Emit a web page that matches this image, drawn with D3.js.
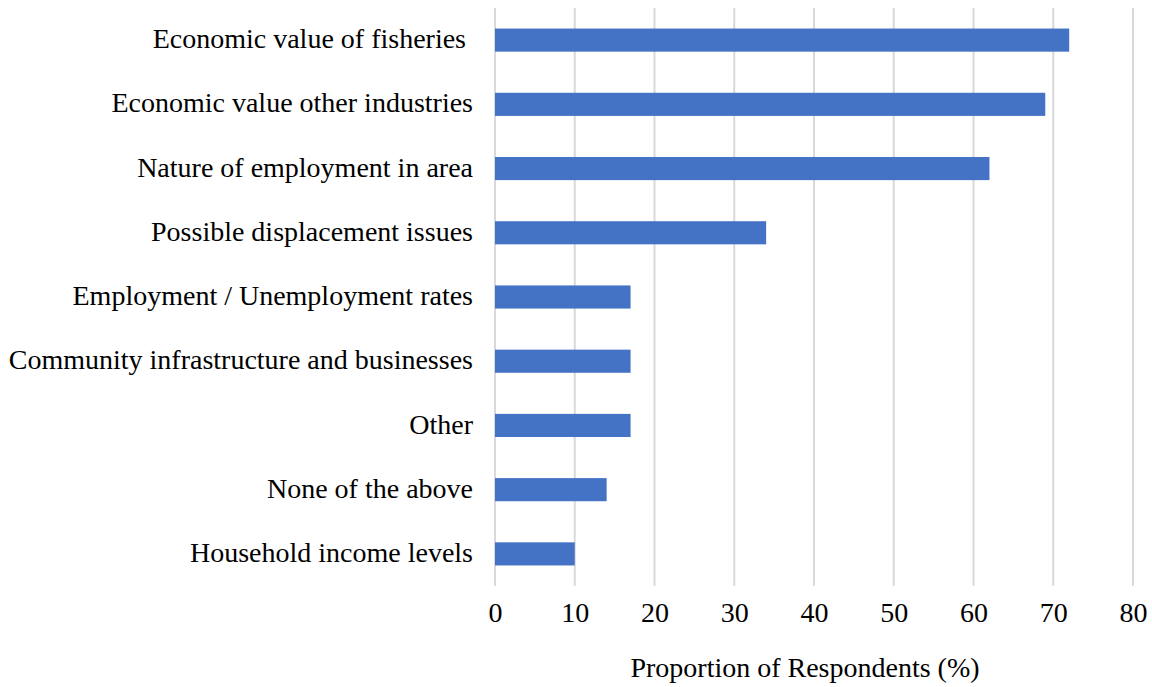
<!DOCTYPE html>
<html>
<head>
<meta charset="utf-8">
<script src="https://cdn.jsdelivr.net/npm/d3@7"></script>
<style>
  html, body { margin: 0; padding: 0; background: #fff; }
  svg text { font-family: "Liberation Serif", "Times New Roman", serif; fill: #000; white-space: pre; }
</style>
</head>
<body>
<svg id="chart" width="1152" height="687"></svg>
<script>
// Survey responses: socio-economic factors considered
const categories = [
  "Economic value of fisheries ",
  "Economic value other industries",
  "Nature of employment in area",
  "Possible displacement issues",
  "Employment / Unemployment rates",
  "Community infrastructure and businesses",
  "Other",
  "None of the above",
  "Household income levels"
];
const values = [72, 69, 62, 34, 17, 17, 17, 14, 10];
const xTicks = [0, 10, 20, 30, 40, 50, 60, 70, 80];
const xTitle = "Proportion of Respondents (%)";

const svg = d3.select("#chart");
const margin = { left: 495, right: 19, top: 8, bottom: 101 };
const W = 1152, H = 687;
const plotW = W - margin.left - margin.right;
const plotH = H - margin.top - margin.bottom;
const fontSize = "28px";

const x = d3.scaleLinear().domain([0, 80]).range([margin.left, margin.left + plotW]);
const y = d3.scaleBand().domain(categories).range([margin.top, margin.top + plotH]).paddingInner(0.64).paddingOuter(0.32);

// vertical gridlines
svg.append("g")
  .selectAll("line")
  .data(xTicks)
  .join("line")
  .attr("x1", d => x(d)).attr("x2", d => x(d))
  .attr("y1", margin.top).attr("y2", margin.top + plotH)
  .attr("stroke", "#d9d9d9")
  .attr("stroke-width", 2);

// bars
svg.append("g")
  .selectAll("rect")
  .data(categories)
  .join("rect")
  .attr("x", x(0))
  .attr("y", d => y(d))
  .attr("width", (d, i) => x(values[i]) - x(0))
  .attr("height", y.bandwidth())
  .attr("fill", "#4472C4");

// category labels
const yAxis = d3.axisLeft(y).tickSize(0).tickPadding(22);
const gy = svg.append("g").attr("transform", `translate(${x(0)},0)`).call(yAxis);
gy.select(".domain").remove();
gy.selectAll("text")
  .style("font-family", "'Liberation Serif', 'Times New Roman', serif")
  .style("font-size", fontSize)
  .style("white-space", "pre")
  .attr("dy", "0.29em")
  .attr("fill", "#000");

// x axis tick labels
const xAxis = d3.axisBottom(x).tickValues(xTicks).tickSize(0).tickPadding(16);
const gx = svg.append("g").attr("transform", `translate(0,${margin.top + plotH})`).call(xAxis);
gx.select(".domain").remove();
gx.selectAll("text")
  .style("font-family", "'Liberation Serif', 'Times New Roman', serif")
  .style("font-size", fontSize)
  .attr("fill", "#000");

// axis title
svg.append("text")
  .attr("x", x(40) - 9)
  .attr("y", 677)
  .attr("text-anchor", "middle")
  .style("font-size", fontSize)
  .text(xTitle);
</script>
</body>
</html>
